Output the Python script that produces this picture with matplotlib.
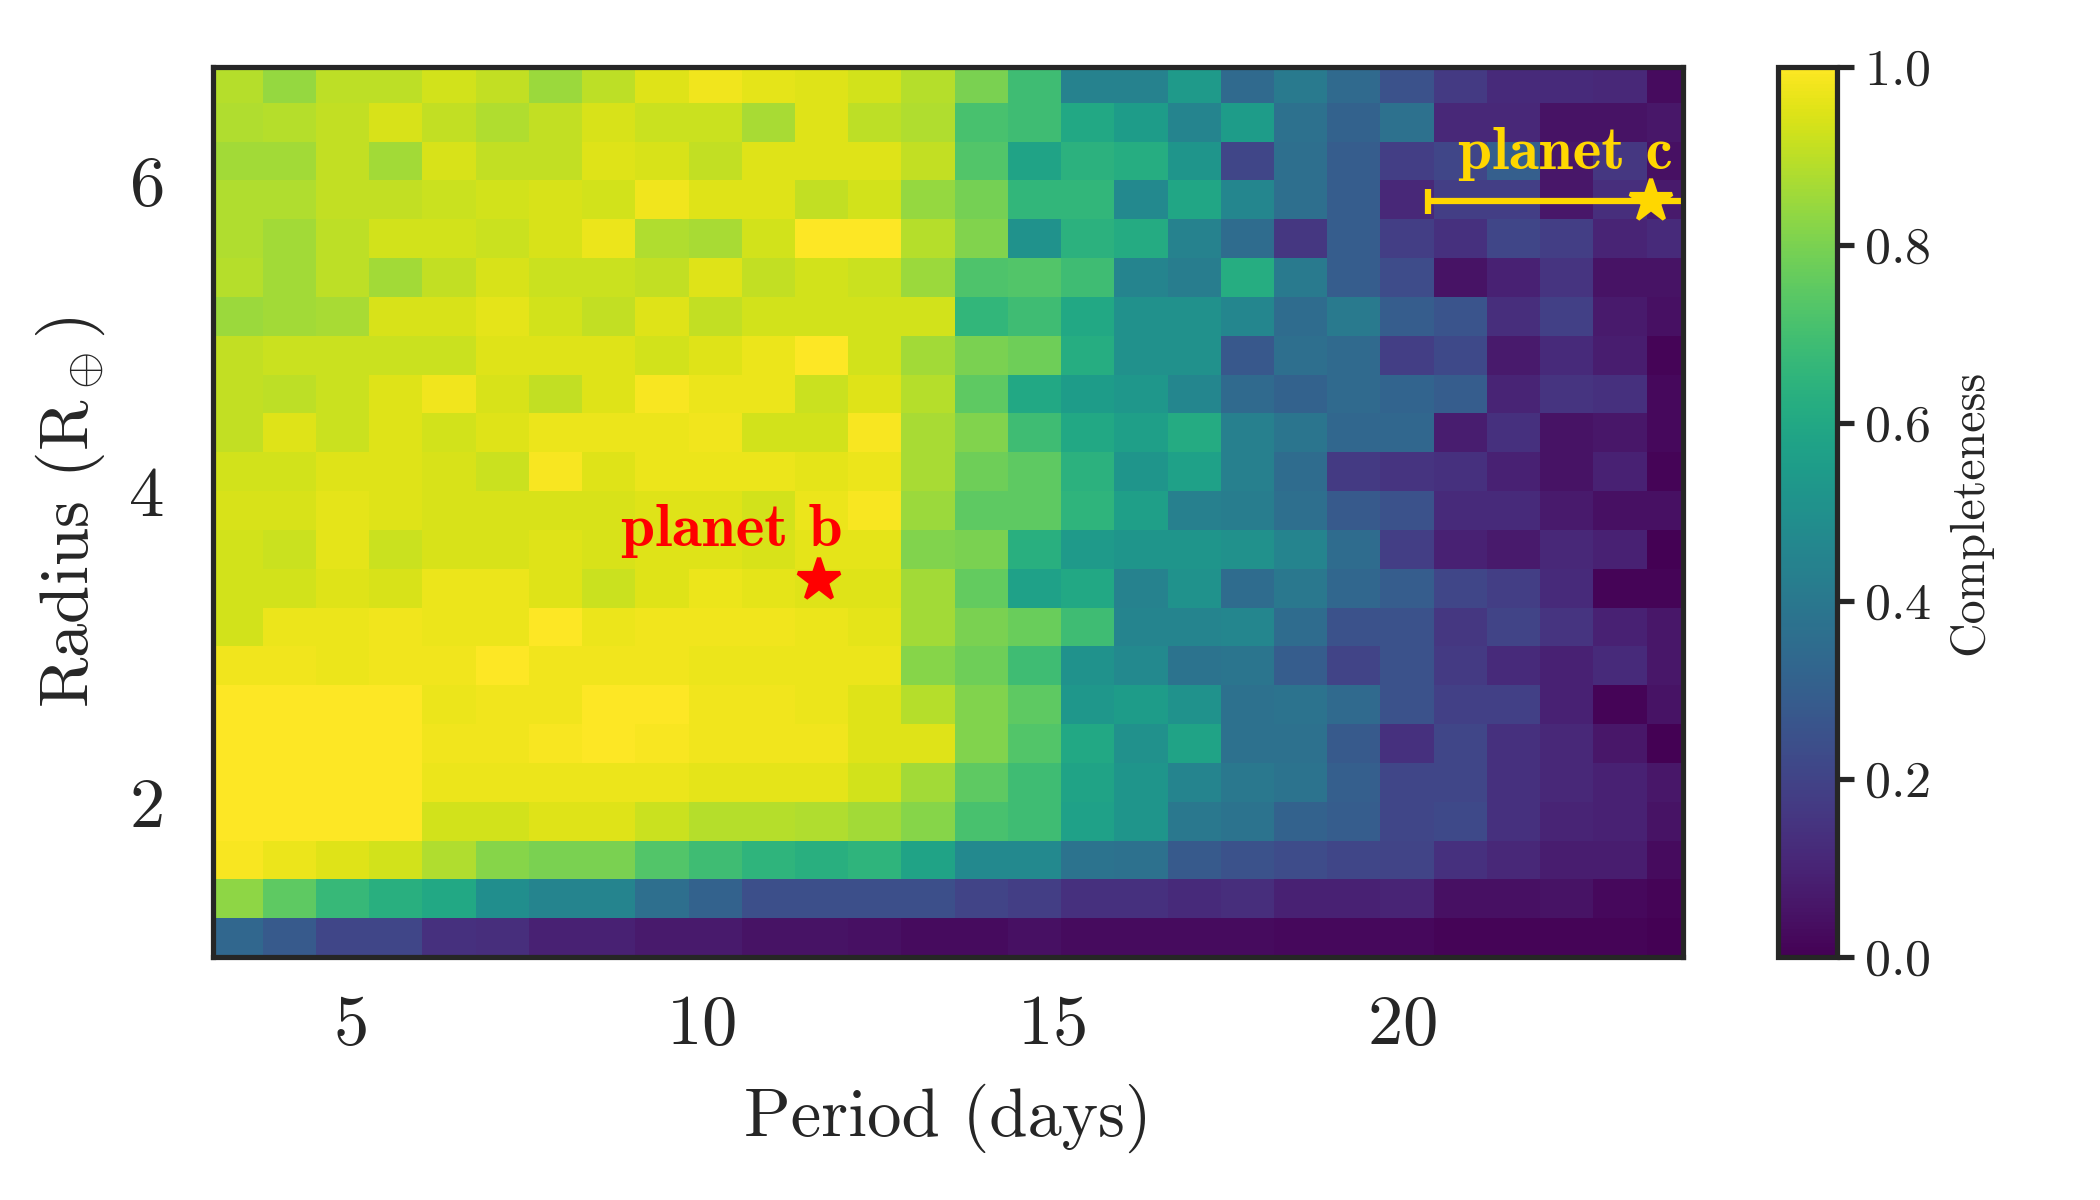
import numpy as np
import matplotlib
matplotlib.use('Agg')
import matplotlib.pyplot as plt

plt.rcParams['font.family'] = 'serif'
plt.rcParams['font.serif'] = ['cmr10']
plt.rcParams['mathtext.fontset'] = 'cm'
plt.rcParams['axes.formatter.use_mathtext'] = True
plt.rcParams['text.color'] = '#262626'
plt.rcParams['axes.labelcolor'] = '#262626'
plt.rcParams['xtick.color'] = '#262626'
plt.rcParams['ytick.color'] = '#262626'

# period bins (days) and radius bins (R_earth)
period_edges = np.linspace(3.0, 25.0, 30)[:29]
radius_edges = np.linspace(1.0, 6.75, 24)

# completeness, rows listed from the top (6.5-6.75) down to the bottom (1.0-1.25)
completeness = [
    [0.89, 0.84, 0.90, 0.90, 0.93, 0.91, 0.85, 0.90, 0.95, 0.98, 0.96, 0.95, 0.93, 0.89, 0.80, 0.69, 0.44, 0.44, 0.54, 0.34, 0.41, 0.34, 0.25, 0.17, 0.12, 0.12, 0.11, 0.03],
    [0.88, 0.89, 0.91, 0.94, 0.91, 0.88, 0.91, 0.94, 0.92, 0.92, 0.87, 0.95, 0.90, 0.88, 0.71, 0.69, 0.60, 0.55, 0.45, 0.55, 0.37, 0.31, 0.37, 0.11, 0.11, 0.05, 0.05, 0.06],
    [0.86, 0.86, 0.91, 0.86, 0.94, 0.91, 0.91, 0.95, 0.94, 0.91, 0.95, 0.95, 0.95, 0.91, 0.73, 0.58, 0.64, 0.62, 0.52, 0.21, 0.36, 0.29, 0.18, 0.21, 0.30, 0.06, 0.16, 0.04],
    [0.88, 0.88, 0.91, 0.91, 0.92, 0.93, 0.94, 0.93, 0.98, 0.95, 0.95, 0.91, 0.93, 0.84, 0.79, 0.66, 0.66, 0.47, 0.59, 0.46, 0.36, 0.29, 0.11, 0.18, 0.18, 0.06, 0.13, 0.07],
    [0.88, 0.86, 0.90, 0.93, 0.93, 0.92, 0.94, 0.97, 0.88, 0.87, 0.93, 1.00, 1.00, 0.89, 0.81, 0.51, 0.64, 0.61, 0.44, 0.35, 0.16, 0.29, 0.18, 0.14, 0.21, 0.18, 0.10, 0.12],
    [0.89, 0.86, 0.90, 0.86, 0.91, 0.94, 0.92, 0.92, 0.91, 0.95, 0.91, 0.93, 0.92, 0.85, 0.72, 0.73, 0.69, 0.45, 0.42, 0.62, 0.41, 0.29, 0.23, 0.05, 0.09, 0.15, 0.05, 0.05],
    [0.85, 0.86, 0.87, 0.94, 0.94, 0.96, 0.93, 0.91, 0.95, 0.91, 0.93, 0.93, 0.93, 0.93, 0.66, 0.69, 0.60, 0.50, 0.50, 0.46, 0.35, 0.41, 0.29, 0.26, 0.13, 0.19, 0.07, 0.04],
    [0.91, 0.92, 0.92, 0.92, 0.92, 0.95, 0.95, 0.95, 0.93, 0.95, 0.97, 1.00, 0.93, 0.86, 0.80, 0.78, 0.62, 0.50, 0.50, 0.27, 0.36, 0.34, 0.18, 0.22, 0.07, 0.12, 0.08, 0.01],
    [0.91, 0.90, 0.92, 0.95, 0.98, 0.94, 0.91, 0.95, 0.99, 0.97, 0.97, 0.92, 0.95, 0.89, 0.75, 0.60, 0.55, 0.53, 0.46, 0.34, 0.31, 0.34, 0.32, 0.29, 0.10, 0.15, 0.14, 0.02],
    [0.91, 0.95, 0.92, 0.95, 0.93, 0.95, 0.97, 0.97, 0.97, 0.98, 0.93, 0.93, 0.99, 0.87, 0.81, 0.69, 0.60, 0.56, 0.61, 0.43, 0.39, 0.33, 0.33, 0.08, 0.14, 0.05, 0.06, 0.02],
    [0.93, 0.93, 0.95, 0.95, 0.94, 0.92, 0.99, 0.95, 0.97, 0.97, 0.97, 0.96, 0.97, 0.87, 0.78, 0.75, 0.64, 0.52, 0.57, 0.43, 0.35, 0.17, 0.15, 0.14, 0.09, 0.05, 0.09, 0.01],
    [0.94, 0.94, 0.96, 0.95, 0.94, 0.94, 0.94, 0.94, 0.95, 0.95, 0.93, 0.97, 0.99, 0.85, 0.75, 0.75, 0.65, 0.56, 0.43, 0.42, 0.36, 0.28, 0.25, 0.12, 0.12, 0.07, 0.04, 0.04],
    [0.93, 0.92, 0.96, 0.92, 0.94, 0.94, 0.95, 0.94, 0.95, 0.95, 0.94, 0.96, 0.96, 0.81, 0.80, 0.63, 0.54, 0.52, 0.52, 0.50, 0.45, 0.35, 0.18, 0.09, 0.07, 0.11, 0.09, 0.00],
    [0.93, 0.93, 0.95, 0.94, 0.97, 0.97, 0.95, 0.92, 0.95, 0.97, 0.96, 0.95, 0.95, 0.86, 0.76, 0.57, 0.60, 0.44, 0.51, 0.35, 0.40, 0.33, 0.29, 0.21, 0.18, 0.12, 0.01, 0.01],
    [0.93, 0.97, 0.97, 0.98, 0.97, 0.97, 1.00, 0.97, 0.98, 0.98, 0.98, 0.97, 0.96, 0.86, 0.80, 0.77, 0.69, 0.45, 0.45, 0.46, 0.35, 0.25, 0.25, 0.16, 0.20, 0.15, 0.09, 0.06],
    [0.98, 0.98, 0.97, 0.98, 0.98, 1.00, 0.98, 0.98, 0.98, 0.97, 0.97, 0.97, 0.97, 0.82, 0.78, 0.69, 0.51, 0.47, 0.38, 0.39, 0.29, 0.20, 0.25, 0.17, 0.12, 0.09, 0.12, 0.06],
    [1.00, 1.00, 1.00, 1.00, 0.97, 0.98, 0.98, 1.00, 1.00, 0.98, 0.98, 0.97, 0.95, 0.89, 0.81, 0.75, 0.53, 0.55, 0.51, 0.37, 0.38, 0.34, 0.25, 0.19, 0.19, 0.09, 0.01, 0.05],
    [1.00, 1.00, 1.00, 1.00, 0.98, 0.98, 0.99, 1.00, 0.99, 0.98, 0.98, 0.98, 0.95, 0.95, 0.81, 0.73, 0.60, 0.50, 0.58, 0.37, 0.37, 0.28, 0.14, 0.21, 0.14, 0.11, 0.06, 0.00],
    [1.00, 1.00, 1.00, 1.00, 0.97, 0.97, 0.97, 0.97, 0.97, 0.96, 0.96, 0.96, 0.93, 0.86, 0.75, 0.69, 0.58, 0.52, 0.45, 0.40, 0.38, 0.30, 0.21, 0.21, 0.14, 0.11, 0.09, 0.06],
    [1.00, 1.00, 1.00, 1.00, 0.93, 0.93, 0.95, 0.95, 0.92, 0.89, 0.89, 0.88, 0.86, 0.82, 0.71, 0.69, 0.57, 0.52, 0.40, 0.38, 0.31, 0.29, 0.21, 0.22, 0.14, 0.10, 0.09, 0.05],
    [0.99, 0.97, 0.95, 0.93, 0.88, 0.82, 0.80, 0.80, 0.73, 0.69, 0.65, 0.63, 0.65, 0.58, 0.47, 0.47, 0.38, 0.37, 0.28, 0.25, 0.23, 0.21, 0.20, 0.14, 0.11, 0.08, 0.08, 0.03],
    [0.83, 0.75, 0.67, 0.63, 0.60, 0.49, 0.45, 0.45, 0.36, 0.31, 0.24, 0.24, 0.24, 0.24, 0.20, 0.18, 0.14, 0.14, 0.12, 0.13, 0.09, 0.09, 0.10, 0.04, 0.04, 0.05, 0.02, 0.01],
    [0.33, 0.28, 0.21, 0.21, 0.14, 0.13, 0.09, 0.09, 0.07, 0.07, 0.05, 0.05, 0.04, 0.03, 0.03, 0.04, 0.03, 0.03, 0.03, 0.03, 0.02, 0.02, 0.02, 0.01, 0.01, 0.01, 0.01, 0.00],
]

# planets
planet_b = (11.69, 3.43)
planet_c = (23.54, 5.87)
planet_c_perr = 3.17

fig = plt.figure(figsize=(7, 4), dpi=300)
ax = fig.add_axes([0.1014, 0.2025, 0.700, 0.7417])

mesh = ax.pcolormesh(period_edges, radius_edges, np.array(completeness)[::-1],
                     cmap='viridis', vmin=0, vmax=1)

ax.plot(*planet_b, marker='*', color='red', ms=10.5, ls='none')
ax.text(10.45, 3.74, 'planet b', color='red', fontfamily='cmb10', fontsize=14.7,
        ha='center', va='center')

ax.errorbar(planet_c[0], planet_c[1], xerr=planet_c_perr, fmt='*', color='gold',
            ms=10.5, capsize=3, elinewidth=1.5, capthick=1.5)
ax.text(22.33, 6.17, 'planet c', color='gold', fontfamily='cmb10', fontsize=14.7,
        ha='center', va='center')

ax.set_xlim(3.05, 24.0)
ax.set_ylim(1.0, 6.73)
ax.set_xticks([5, 10, 15, 20])
ax.set_yticks([2, 4, 6])
ax.tick_params(length=0, labelsize=17)
ax.tick_params(axis='x', pad=9)
ax.tick_params(axis='y', pad=12)
ax.set_xlabel('Period (days)', fontsize=16.5, labelpad=6)
ax.set_ylabel(r'Radius ($\mathrm{R}_\oplus$)', fontsize=16.5, labelpad=5)
for s in ax.spines.values():
    s.set_linewidth(1.25)
    s.set_color('#262626')

cax = fig.add_axes([0.8467, 0.2025, 0.0281, 0.7417])
cb = fig.colorbar(mesh, cax=cax)
cb.set_ticks([0.0, 0.2, 0.4, 0.6, 0.8, 1.0])
cb.ax.tick_params(labelsize=12.5, length=4, width=1.25, color='#262626', pad=2.5)
cb.outline.set_linewidth(1.25)
cb.outline.set_edgecolor('#262626')
cb.set_label('Completeness', fontsize=11.5)

fig.savefig('out.png', dpi=300)
